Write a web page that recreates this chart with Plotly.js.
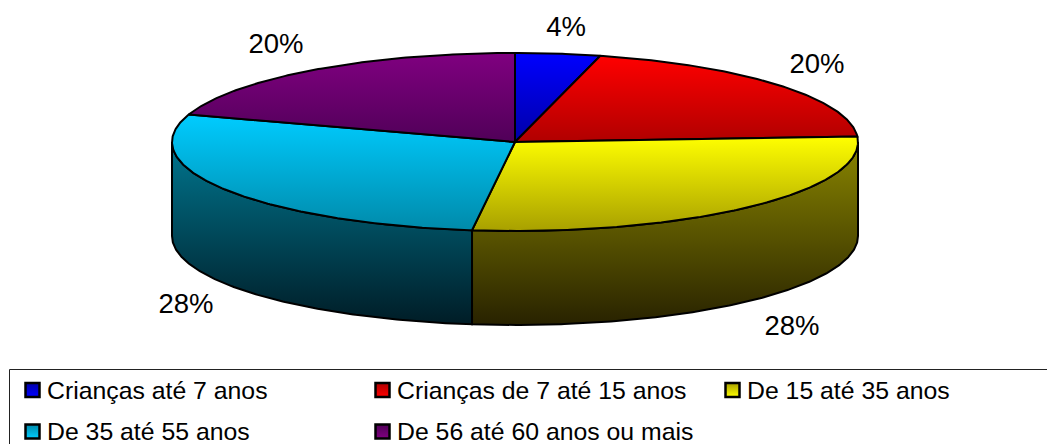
<!DOCTYPE html>
<html><head><meta charset="utf-8">
<script src="https://cdn.plot.ly/plotly-3.0.1.min.js"></script>
<style>html,body{margin:0;padding:0;background:#fff}</style></head>
<body><div id="chart" style="width:1047px;height:444px"></div>
<script>
const categories = ["Crianças até 7 anos","Crianças de 7 até 15 anos","De 15 até 35 anos","De 35 até 55 anos","De 56 até 60 anos ou mais"];
const values = [4,20,28,28,20];

const topColors = ["#0000ff","#ff0000","#ffff00","#00ccff","#800080"];
const topDark   = ["#0000a8","#b00000","#a8a000","#008aaa","#500058"];
const sideTop   = ["#000080","#800000","#8a8600","#00768f","#400040"];
const sideDark  = ["#000020","#200000","#282200","#001c26","#100010"];

// pie geometry in pixel-scaled axis units
const cx=515, cy=142, rx=343, ry=89, depth=94;
const labelX=[566,817,792,186,276], labelY=[29,66,328,306,46];
const legX=[32.5,382.5,732.5,32.5,382.5], legY=[390,390,390,431.5,431.5];
const pt = (deg,dy=0)=>[cx+rx*Math.sin(deg*Math.PI/180), cy-ry*Math.cos(deg*Math.PI/180)+dy];
const arc = (a,b,dy=0)=>{const n=Math.max(2,Math.ceil(Math.abs(b-a)*2));const out=[];for(let i=0;i<=n;i++)out.push(pt(a+(b-a)*i/n,dy));return out;};

const total = values.reduce((a,b)=>a+b,0);
const tops=[], sides=[];
let acc=0;
values.forEach((v,i)=>{
  const a=acc/total*360, b=(acc+v)/total*360; acc+=v;
  const wedge=[[cx,cy],...arc(a,b),[cx,cy]];
  const ys=wedge.map(p=>p[1]);
  tops.push({type:'scatter',mode:'lines',x:wedge.map(p=>p[0]),y:ys,fill:'toself',hoverinfo:'skip',showlegend:false,
    line:{color:'#000',width:2},
    fillgradient:{type:'vertical',start:Math.min(...ys),stop:Math.max(...ys),colorscale:[[0,topColors[i]],[1,topDark[i]]]}});
  const s=Math.max(a,90), e=Math.min(b,270);
  if(e>s){
    const band=[...arc(s,e),...arc(e,s,depth)]; band.push(band[0]);
    sides.push({type:'scatter',mode:'lines',x:band.map(p=>p[0]),y:band.map(p=>p[1]),fill:'toself',hoverinfo:'skip',showlegend:false,
      line:{color:'#000',width:2},
      fillgradient:{type:'vertical',start:cy,stop:cy+ry+depth,colorscale:[[0,sideTop[i]],[1,sideDark[i]]]}});
  }
});

const pct={type:'scatter',mode:'text',x:labelX,y:labelY,text:values.map(v=>v+'%'),textposition:'middle center',cliponaxis:false,
  textfont:{family:'Liberation Sans',size:27.5,color:'#000'},hoverinfo:'skip',showlegend:false};
const swatches={type:'scatter',mode:'markers',x:legX,y:legY,hoverinfo:'skip',showlegend:false,
  marker:{symbol:'square',size:14,color:topDark,line:{color:'#000',width:2.5},gradient:{type:'vertical',color:topColors}}};
const legText={type:'scatter',mode:'text',x:legX.map(x=>x+14.5),y:legY.map(y=>y+2.5),text:categories,textposition:'middle right',cliponaxis:false,
  textfont:{family:'Liberation Sans',size:24.8,color:'#000'},hoverinfo:'skip',showlegend:false};

const axis={visible:false,fixedrange:true,showgrid:false,zeroline:false};
Plotly.newPlot('chart',[...sides,...tops,pct,swatches,legText],{
  width:1047,height:444,margin:{l:0,r:0,t:0,b:0},
  paper_bgcolor:'#fff',plot_bgcolor:'#fff',showlegend:false,
  xaxis:{...axis,range:[0,1047]},yaxis:{...axis,range:[444,0]},
  shapes:[{type:'rect',xref:'x',yref:'y',x0:9.5,x1:1070,y0:369.5,y1:470,line:{color:'#222',width:1},layer:'below'}]
},{displayModeBar:false,staticPlot:true});
</script></body></html>
